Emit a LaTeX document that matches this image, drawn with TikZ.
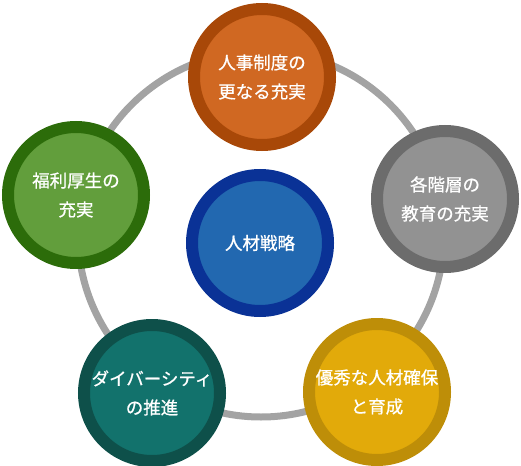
\documentclass[tikz,border=0pt]{standalone}
\usepackage{fontspec}
\newfontfamily\jpfont{Noto Sans CJK JP}[FakeBold=0.8]
\definecolor{ringgray}{RGB}{163,163,163}
\definecolor{orgout}{RGB}{168,72,8}
\definecolor{orgin}{RGB}{208,104,34}
\definecolor{grayout}{RGB}{108,108,108}
\definecolor{grayin}{RGB}{146,146,146}
\definecolor{ylwout}{RGB}{190,142,8}
\definecolor{ylwin}{RGB}{226,170,10}
\definecolor{tealout}{RGB}{14,80,74}
\definecolor{tealin}{RGB}{18,114,108}
\definecolor{grnout}{RGB}{44,108,10}
\definecolor{grnin}{RGB}{98,158,60}
\definecolor{bluout}{RGB}{10,50,150}
\definecolor{bluin}{RGB}{34,104,176}

\def\csize{136}
\def\bwidth{12}

\begin{document}
\begin{tikzpicture}[x=1pt,y=-1pt,mycirc/.style={circle,inner sep=0pt,line width=\bwidth pt,minimum size=\csize pt,text=white,align=center,font=\jpfont\fontsize{17.5}{29}\selectfont},orgcirc/.style={mycirc,draw=orgout,fill=orgin},graycirc/.style={mycirc,draw=grayout,fill=grayin},ylwcirc/.style={mycirc,draw=ylwout,fill=ylwin},tealcirc/.style={mycirc,draw=tealout,fill=tealin},grncirc/.style={mycirc,draw=grnout,fill=grnin},blucirc/.style={mycirc,draw=bluout,fill=bluin}]
			\useasboundingbox (0,0) rectangle (521,465);
			\coordinate (hub) at (261,234);
			\draw[ringgray,line width=7pt] (hub) circle[radius=183];
			\node[orgcirc] (seido) at (262,77) {人事制度の\\更なる充実};
			\node[graycirc] (kyoiku) at (445,199) {各階層の\\教育の充実};
			\node[ylwcirc] (kakuho) at (377,392) {優秀な人材確保\\と育成};
			\node[tealcirc] (divers) at (152,393) {ダイバーシティ\\の推進};
			\node[grncirc] (fukuri) at (76,195) {福利厚生の\\充実};
			\node[blucirc] (senryaku) at (260,243) {人材戦略};
		\end{tikzpicture}
\end{document}
